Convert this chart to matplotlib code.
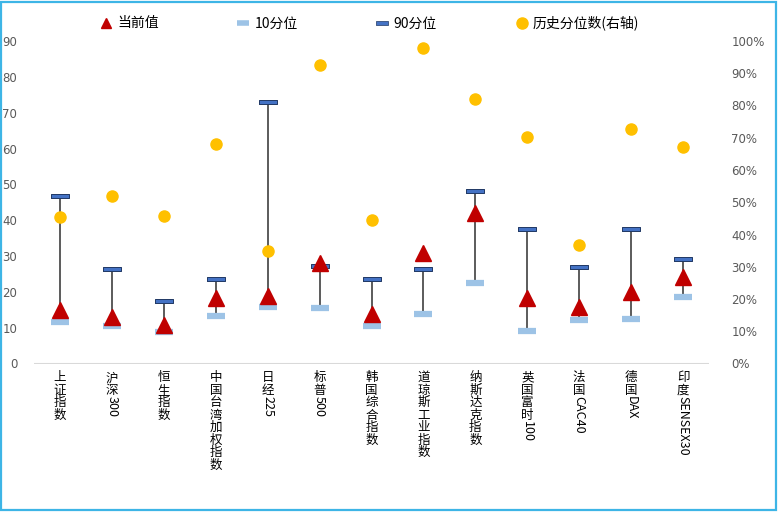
import matplotlib
matplotlib.use("Agg")
import matplotlib.pyplot as plt
from matplotlib.lines import Line2D
from matplotlib.patches import Rectangle
from matplotlib.textpath import TextPath
from matplotlib.font_manager import FontProperties
from matplotlib.ticker import FuncFormatter
import numpy as np

plt.rcParams['font.family'] = ['Noto Sans CJK SC', 'DejaVu Sans']

# data
names = ['上证指数', '沪深300', '恒生指数', '中国台湾加权指数', '日经225', '标普500',
         '韩国综合指数', '道琼斯工业指数', '纳斯达克指数', '英国富时100', '法国CAC40',
         '德国DAX', '印度SENSEX30']
current = [14.9, 12.9, 10.7, 18.2, 18.9, 28.0, 13.8, 30.8, 41.9, 18.3, 15.9, 20.0, 24.1]
p10 = [11.5, 10.4, 8.8, 13.3, 15.8, 15.6, 10.4, 13.9, 22.6, 9.2, 12.1, 12.4, 18.6]
p90 = [46.7, 26.3, 17.4, 23.5, 72.9, 27.2, 23.5, 26.5, 48.1, 37.5, 26.8, 37.5, 29.1]
hist_pct = [45.3, 52.0, 45.8, 68.0, 34.9, 92.5, 44.5, 97.9, 82.0, 70.2, 36.7, 72.7, 67.1]

W, H = 779, 512
fig = plt.figure(figsize=(W / 100, H / 100), dpi=100)
ax = fig.add_axes([34 / W, 1 - 363.5 / H, (709 - 34) / W, (363.5 - 41) / H])
ax2 = ax.twinx()

x = np.arange(len(names))
tick_color = '#595959'

# high-low line between the 10th and 90th percentile
ax.vlines(x, p10, p90, color='#404040', lw=1.2, zorder=2)

ax.plot(x, p10, ls='none', marker='_', ms=13, mew=4.5, color='#9DC3E6',
        solid_capstyle='round', zorder=3)
bar = [(-1, -0.25), (1, -0.25), (1, 0.25), (-1, 0.25), (-1, -0.25)]
ax.plot(x, p90, ls='none', marker=bar, ms=13, mfc='#4472C4', mec='#1F3864',
        mew=0.7, zorder=3)
ax.plot(x, current, ls='none', marker='^', ms=11, color='#C00000', zorder=4)

ax2.plot(x, hist_pct, ls='none', marker='o', ms=8, color='#FFC000', zorder=5)

ax.set_xlim(-0.5, len(names) - 0.5)
ax.set_ylim(0, 90)
ax.set_yticks(range(0, 91, 10))
ax2.set_ylim(0, 100)
ax2.set_yticks(range(0, 101, 10))
ax2.yaxis.set_major_formatter(FuncFormatter(lambda v, p: f'{int(v)}%'))

for a in (ax, ax2):
    for s in a.spines.values():
        s.set_visible(False)
    a.tick_params(length=0, labelsize=8.5, labelcolor=tick_color)
    for t in a.get_yticklabels():
        t.set_family('DejaVu Sans')
ax.tick_params(axis='y', pad=12)
ax2.tick_params(axis='y', pad=16)
ax.set_xticks([])
ax.axhline(0, color='#D9D9D9', lw=1.5, zorder=1)
ax2.set_zorder(ax.get_zorder() + 1)
ax2.patch.set_visible(False)


# category labels: CJK characters stacked upright, latin runs rotated
def is_cjk(c):
    return ord(c[0]) > 0x2E80


fs = 9
fp = FontProperties(family='Noto Sans CJK SC', size=fs)
for i, name in enumerate(names):
    segs = []
    for c in name:
        if segs and not is_cjk(c) and not is_cjk(segs[-1][-1]):
            segs[-1] += c
        else:
            segs.append(c)
    off = 5.5
    for seg in segs:
        if is_cjk(seg):
            ax.annotate(seg, xy=(i, 0), xycoords=('data', 'axes fraction'),
                        xytext=(0, -off), textcoords='offset points',
                        ha='center', va='top', fontsize=fs, color='#000000')
            off += fs * 1.0
        else:
            w = TextPath((0, 0), seg, size=fs, prop=fp).get_extents().width
            ax.annotate(seg, xy=(i, 0), xycoords=('data', 'axes fraction'),
                        xytext=(0, -off), textcoords='offset points',
                        ha='center', va='top', rotation=270, fontsize=fs,
                        color='#000000')
            off += w + 1

handles = [
    Line2D([], [], ls='none', marker='^', ms=7, color='#C00000'),
    Line2D([], [], ls='none', marker='_', ms=9, mew=4, color='#9DC3E6'),
    Line2D([], [], ls='none', marker=bar, ms=9, mfc='#4472C4', mec='#1F3864', mew=0.5),
    Line2D([], [], ls='none', marker='o', ms=8, color='#FFC000'),
]
labels = ['当前值', '10分位', '90分位', '历史分位数(右轴)']
fig.legend(handles, labels, loc='center left', bbox_to_anchor=(99 / W, 1 - 23 / H),
           ncol=4, frameon=False, fontsize=10, handlelength=1.0, handletextpad=0.3,
           columnspacing=5.6, borderpad=0, borderaxespad=0)

fig.patches.append(Rectangle((1 / W, 2 / H), 775 / W, 508 / H, transform=fig.transFigure,
                             fill=False, edgecolor='#3DB5E6', lw=1.6))

fig.savefig('out.png', dpi=100)
